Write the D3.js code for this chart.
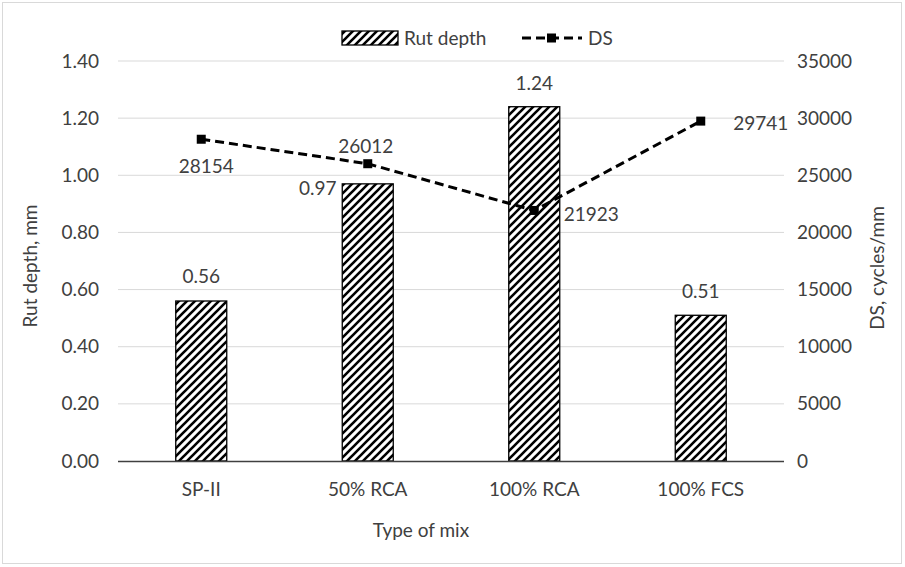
<!DOCTYPE html>
<html><head><meta charset="utf-8">
<script src="https://cdn.jsdelivr.net/npm/d3@7"></script>
<style>body{margin:0;background:#fff;} svg{display:block;} text{font-family:Lato,"Open Sans",sans-serif;fill:#404040;}</style>
</head><body><svg id="c" width="905" height="567"></svg>
<script>
const categories = ["SP-II","50% RCA","100% RCA","100% FCS"];
const rutDepth = [0.56,0.97,1.24,0.51];
const dsValues = [28154,26012,21923,29741];
const leftTicks = [0,0.2,0.4,0.6,0.8,1.0,1.2,1.4];
const rightTicks = [0,5000,10000,15000,20000,25000,30000,35000];

const FS = "19px";
const svg = d3.select("#c");
svg.append("rect").attr("x",2.5).attr("y",2.5).attr("width",899).attr("height",561).attr("fill","#fff").attr("stroke","#d9d9d9");

const defs = svg.append("defs");
const pat = defs.append("pattern").attr("id","hatch").attr("patternUnits","userSpaceOnUse").attr("width",8).attr("height",8);
pat.append("rect").attr("width",8).attr("height",8).attr("fill","#fff");
pat.append("path").attr("d","M-2,2 L2,-2 M0,8 L8,0 M6,10 L10,6").attr("stroke","#000").attr("stroke-width",2.6);

const L=118, R=784, T=61, B=461;
const x = d3.scaleBand().domain(categories).range([L,R]);
const yL = d3.scaleLinear().domain([0,1.4]).range([B,T]);
const yR = d3.scaleLinear().domain([0,35000]).range([B,T]);

// gridlines
svg.append("g").selectAll("line").data(leftTicks.slice(1)).join("line")
  .attr("x1",L).attr("x2",R).attr("y1",d=>yL(d)).attr("y2",d=>yL(d)).attr("stroke","#d9d9d9").attr("stroke-width",1);

// left axis
const ga = svg.append("g").attr("transform",`translate(${L},0)`)
  .call(d3.axisLeft(yL).tickValues(leftTicks).tickFormat(d3.format(".2f")).tickSize(0).tickPadding(19));
ga.select(".domain").remove();
ga.selectAll("text").style("font-size",FS).style("font-family","Lato").attr("fill","#404040");

const gb = svg.append("g").attr("transform",`translate(${R},0)`)
  .call(d3.axisRight(yR).tickValues(rightTicks).tickFormat(d3.format("d")).tickSize(0).tickPadding(13));
gb.select(".domain").remove();
gb.selectAll("text").style("font-size",FS).style("font-family","Lato").attr("fill","#404040");

// bars
const bw = 51;
svg.append("g").selectAll("rect").data(rutDepth).join("rect")
  .attr("x",(d,i)=>x(categories[i])+x.bandwidth()/2-bw/2)
  .attr("y",d=>yL(d)).attr("width",bw).attr("height",d=>B-yL(d))
  .attr("fill","url(#hatch)").attr("stroke","#000").attr("stroke-width",1.3);

// x axis baseline
svg.append("line").attr("x1",L).attr("x2",R).attr("y1",B+0.5).attr("y2",B+0.5).attr("stroke","#404040").attr("stroke-width",1.3);
const gx = svg.append("g").attr("transform",`translate(0,${B})`).call(d3.axisBottom(x).tickSize(0).tickPadding(22));
gx.select(".domain").remove();
gx.selectAll("text").style("font-size",FS).style("font-family","Lato").attr("fill","#404040");

// DS line
const cx = i => x(categories[i])+x.bandwidth()/2;
const line = d3.line().x((d,i)=>cx(i)).y(d=>yR(d));
svg.append("path").datum(dsValues).attr("d",line).attr("fill","none").attr("stroke","#000").attr("stroke-width",3).attr("stroke-dasharray","9,5");
svg.append("g").selectAll("rect").data(dsValues).join("rect")
  .attr("x",(d,i)=>cx(i)-4.5).attr("y",d=>yR(d)-4.5).attr("width",9).attr("height",9).attr("fill","#000");

// bar labels
const barLab = [[0,0,-18],[1,-50,11],[2,0,-17],[3,0,-17]];
svg.append("g").selectAll("text").data(barLab).join("text")
  .attr("x",d=>cx(d[0])+d[1]).attr("y",d=>yL(rutDepth[d[0]])+d[2])
  .attr("text-anchor","middle").style("font-size",FS).text(d=>rutDepth[d[0]].toFixed(2));

// DS labels
const dsLab = [[0,5,34],[1,-2,-11],[2,57,11],[3,60,9]];
svg.append("g").selectAll("text").data(dsLab).join("text")
  .attr("x",d=>cx(d[0])+d[1]).attr("y",d=>yR(dsValues[d[0]])+d[2])
  .attr("text-anchor","middle").style("font-size",FS).text(d=>dsValues[d[0]]);

// axis titles
svg.append("text").attr("transform","translate(37,266) rotate(-90)").attr("text-anchor","middle").style("font-size",FS).text("Rut depth, mm");
svg.append("text").attr("transform","translate(884,268) rotate(-90)").attr("text-anchor","middle").style("font-size",FS).text("DS, cycles/mm");
svg.append("text").attr("x",421).attr("y",537).attr("text-anchor","middle").style("font-size",FS).text("Type of mix");

// legend
svg.append("rect").attr("x",342).attr("y",31).attr("width",56).attr("height",14).attr("fill","url(#hatch)").attr("stroke","#000").attr("stroke-width",1.3);
svg.append("text").attr("x",404).attr("y",45).style("font-size",FS).text("Rut depth");
svg.append("line").attr("x1",522).attr("x2",582).attr("y1",38).attr("y2",38).attr("stroke","#000").attr("stroke-width",3).attr("stroke-dasharray","9,5");
svg.append("rect").attr("x",547).attr("y",33.5).attr("width",9).attr("height",9).attr("fill","#000");
svg.append("text").attr("x",588).attr("y",45).style("font-size",FS).text("DS");
</script></body></html>
